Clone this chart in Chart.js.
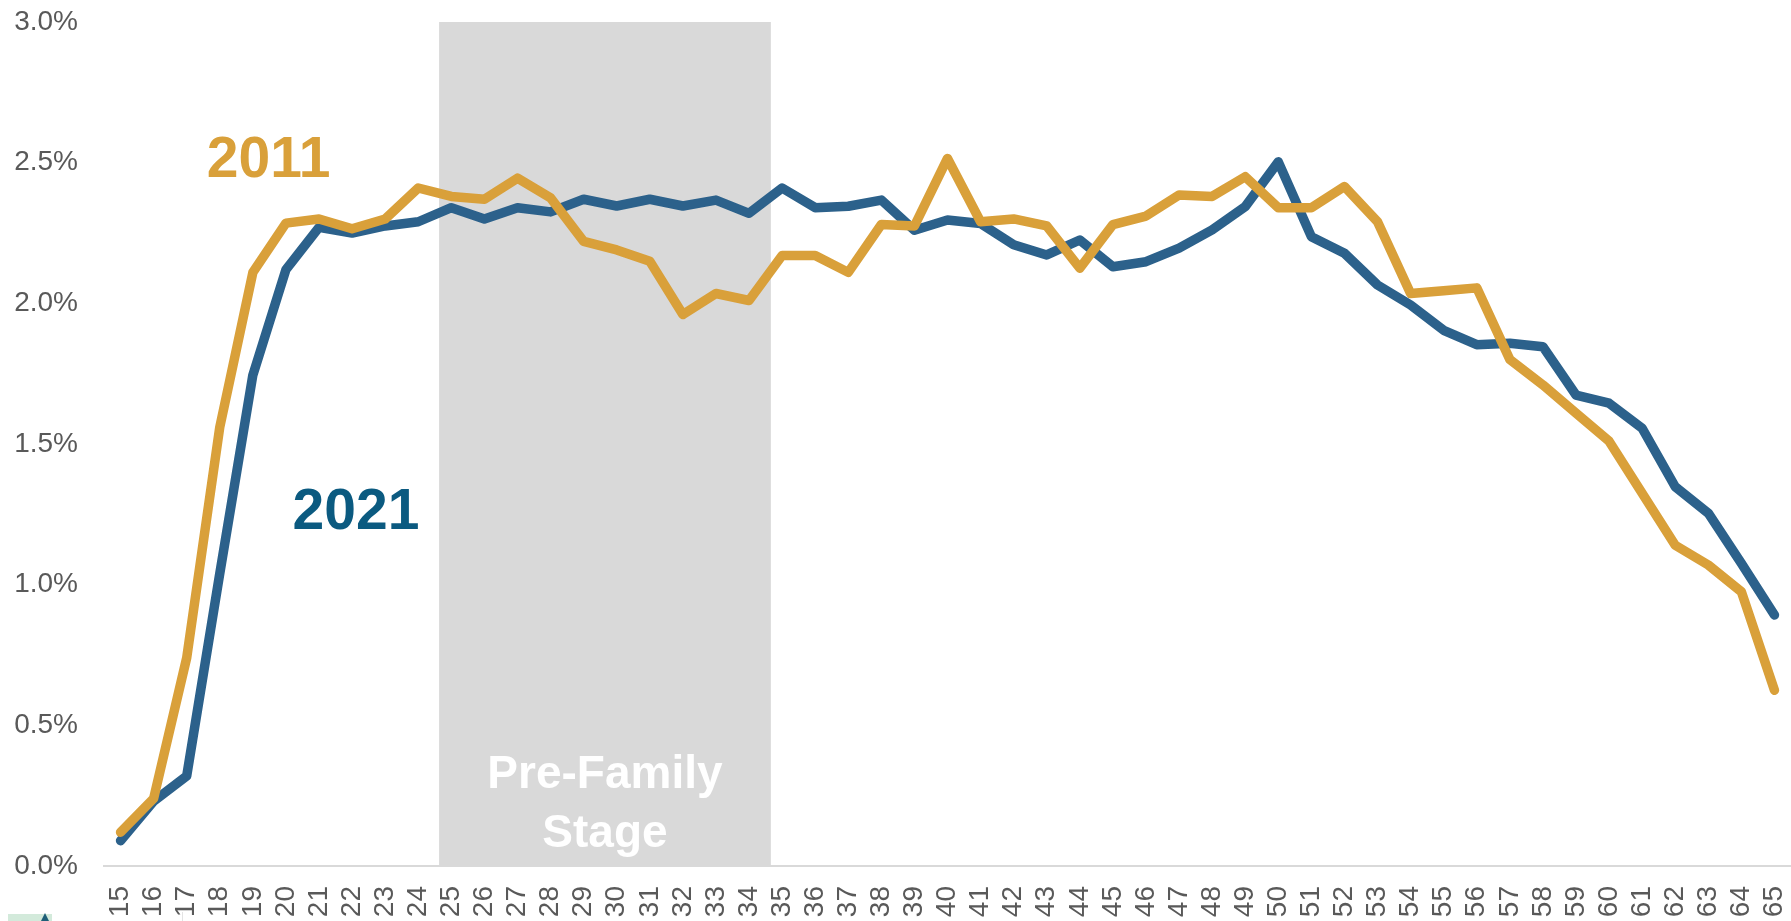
<!DOCTYPE html>
<html>
<head>
<meta charset="utf-8">
<script src="https://cdn.jsdelivr.net/npm/chart.js@4.4.0/dist/chart.umd.min.js"></script>
<style>
  html, body { margin: 0; padding: 0; background: #ffffff; overflow: hidden; }
  canvas { display: block; }
</style>
</head>
<body>
<canvas id="chart" width="1791" height="921"></canvas>
<script>
// Ages shown on the category axis
const ages = ['15','16','17','18','19','20','21','22','23','24','25','26','27','28','29','30',
  '31','32','33','34','35','36','37','38','39','40','41','42','43','44','45','46','47','48',
  '49','50','51','52','53','54','55','56','57','58','59','60','61','62','63','64','65'];

// Share of population at each age (%), 2011
const share2011 = [0.12, 0.24, 0.74, 1.56, 2.11, 2.285, 2.30, 2.265, 2.30, 2.41,
  2.38, 2.37, 2.445, 2.375, 2.22, 2.19, 2.15, 1.96, 2.035, 2.01,
  2.17, 2.17, 2.11, 2.28, 2.275, 2.515, 2.29, 2.30, 2.275, 2.125,
  2.28, 2.31, 2.385, 2.38, 2.45, 2.34, 2.34, 2.415, 2.29, 2.035,
  2.045, 2.055, 1.80, 1.71, 1.61, 1.51, 1.325, 1.14, 1.07, 0.975, 0.625];

// Share of population at each age (%), 2021
const share2021 = [0.09, 0.23, 0.32, 1.04, 1.745, 2.12, 2.27, 2.25, 2.275, 2.29,
  2.34, 2.30, 2.34, 2.325, 2.37, 2.346, 2.37, 2.346, 2.367, 2.32,
  2.41, 2.34, 2.345, 2.367, 2.26, 2.296, 2.284, 2.208, 2.172, 2.225,
  2.13, 2.148, 2.196, 2.261, 2.344, 2.503, 2.237, 2.178, 2.065, 1.994,
  1.904, 1.853, 1.858, 1.846, 1.674, 1.645, 1.556, 1.348, 1.254, 1.076, 0.892];

// Value axis ticks (%)
const yTickValues = [0, 0.5, 1.0, 1.5, 2.0, 2.5, 3.0];

// Age span of the highlighted life stage
const stageAges = [24.63, 34.66];
const stageLines = ['Pre-Family', 'Stage'];

const FONT = '"Liberation Sans", Arial, Helvetica, sans-serif';
const GOLD = '#D9A03A';
const BLUE = '#2C618B';
const BLUE_TEXT = '#0B5A80';
const firstAge = Number(ages[0]);

// Shaded band with its caption, drawn beneath the lines
const stageBandPlugin = {
  id: 'stageBand',
  beforeDatasetsDraw(chart) {
    const { ctx, scales: { x, y } } = chart;
    const left = x.getPixelForValue(stageAges[0] - firstAge);
    const right = x.getPixelForValue(stageAges[1] - firstAge);
    const top = y.getPixelForValue(yTickValues[yTickValues.length - 1]);
    const bottom = y.getPixelForValue(0);
    ctx.save();
    ctx.fillStyle = '#D9D9D9';
    ctx.fillRect(left, top, right - left, bottom - top);
    ctx.fillStyle = '#FFFFFF';
    ctx.font = 'bold 46px ' + FONT;
    ctx.textAlign = 'center';
    ctx.textBaseline = 'alphabetic';
    const cx = (left + right) / 2;
    ctx.fillText(stageLines[0], cx, bottom - 78);
    ctx.fillText(stageLines[1], cx, bottom - 19);
    ctx.restore();
  },
  afterDraw(chart) {
    const { ctx, scales: { x, y } } = chart;
    ctx.save();
    ctx.font = 'bold 57px ' + FONT;
    ctx.textAlign = 'left';
    ctx.textBaseline = 'alphabetic';
    ctx.fillStyle = GOLD;
    ctx.fillText('2011', x.getPixelForValue(2.61), y.getPixelForValue(2.448));
    ctx.fillStyle = BLUE_TEXT;
    ctx.fillText('2021', x.getPixelForValue(5.2), y.getPixelForValue(1.198));

    // corner of the publisher mark along the bottom edge
    ctx.fillStyle = '#D3EADB';
    ctx.fillRect(8, 914, 44, 7);
    ctx.fillStyle = '#1E5E78';
    ctx.beginPath();
    ctx.moveTo(41, 921);
    ctx.lineTo(45, 913);
    ctx.lineTo(49, 921);
    ctx.closePath();
    ctx.fill();
    ctx.fillStyle = '#E3E3E3';
    ctx.fillRect(182, 912, 1, 9);
    ctx.restore();
  }
};

Chart.defaults.font.family = FONT;

new Chart(document.getElementById('chart'), {
  type: 'line',
  data: {
    labels: ages,
    datasets: [
      {
        label: '2011',
        data: share2011,
        borderColor: GOLD,
        borderWidth: 9.5,
        borderCapStyle: 'round',
        borderJoinStyle: 'round',
        pointRadius: 0,
        tension: 0,
        fill: false
      },
      {
        label: '2021',
        data: share2021,
        borderColor: BLUE,
        borderWidth: 9.5,
        borderCapStyle: 'round',
        borderJoinStyle: 'round',
        pointRadius: 0,
        tension: 0,
        fill: false
      }
    ]
  },
  options: {
    responsive: false,
    animation: false,
    devicePixelRatio: 1,
    layout: { padding: { top: 22, right: 0, bottom: 0, left: 0 } },
    plugins: {
      legend: { display: false },
      tooltip: { enabled: false }
    },
    scales: {
      x: {
        type: 'category',
        offset: true,
        grid: { display: false, drawTicks: false },
        border: { display: true, color: '#D9D9D9', width: 2 },
        ticks: {
          autoSkip: false,
          minRotation: 90,
          maxRotation: 90,
          padding: 20,
          color: '#595959',
          font: { size: 28, family: FONT }
        },
        afterFit(scale) {
          scale.height = 55;
          scale.paddingLeft = 0;
          scale.paddingRight = 0;
        }
      },
      y: {
        min: yTickValues[0],
        max: yTickValues[yTickValues.length - 1],
        afterBuildTicks(scale) {
          scale.ticks = yTickValues.map(v => ({ value: v }));
        },
        grid: { display: false, drawTicks: false },
        border: { display: false },
        ticks: {
          padding: 26,
          color: '#595959',
          font: { size: 28, family: FONT },
          callback: v => Number(v).toFixed(1) + '%'
        },
        afterFit(scale) {
          scale.width = 104;
          scale.paddingTop = 0;
          scale.paddingBottom = 0;
        }
      }
    }
  },
  plugins: [stageBandPlugin]
});
</script>
</body>
</html>
